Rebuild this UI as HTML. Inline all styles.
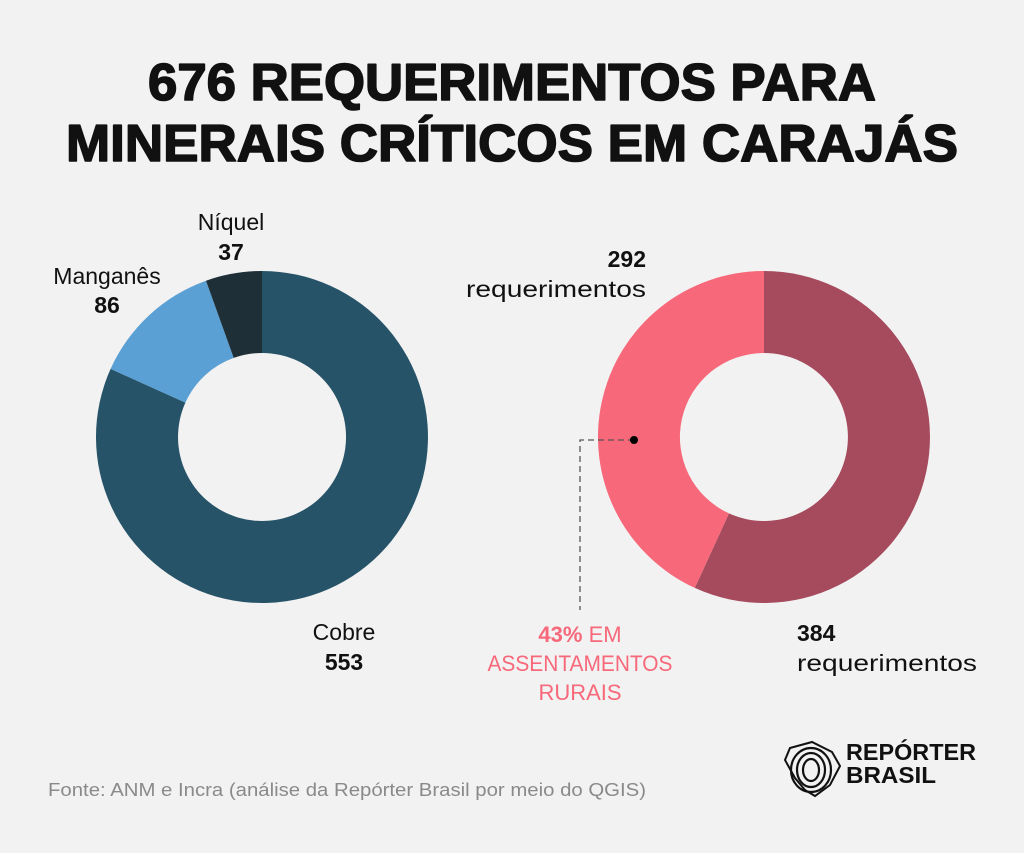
<!DOCTYPE html>
<html><head><meta charset="utf-8"><style>html,body{margin:0;padding:0;background:#f2f2f2}svg{display:block}</style></head>
<body>
<svg width="1024" height="853" viewBox="0 0 1024 853" xmlns="http://www.w3.org/2000/svg" font-family="Liberation Sans, sans-serif">
<rect width="1024" height="853" fill="#f2f2f2"/>
<g stroke="#111" stroke-width="1.6" stroke-linejoin="round">
<text x="512" y="100" text-anchor="middle" font-size="52" font-weight="bold" fill="#111" textLength="728" lengthAdjust="spacingAndGlyphs">676 REQUERIMENTOS PARA</text>
<text x="512" y="161" text-anchor="middle" font-size="52" font-weight="bold" fill="#111" textLength="892" lengthAdjust="spacingAndGlyphs">MINERAIS CRÍTICOS EM CARAJÁS</text>
</g>
<g transform="translate(262,437)">
<path d="M0,-166 A166,166 0 1 1 -151.4,-68.1 L-76.6,-34.4 A84,84 0 1 0 0,-84 Z" fill="#275368"/>
<path d="M-151.4,-68.1 A166,166 0 0 1 -56.0,-156.3 L-28.3,-79.1 A84,84 0 0 0 -76.6,-34.4 Z" fill="#5aa0d4"/>
<path d="M-56.0,-156.3 A166,166 0 0 1 0,-166 L0,-84 A84,84 0 0 0 -28.3,-79.1 Z" fill="#1f2f38"/>
</g>
<g transform="translate(764,437)">
<path d="M0,-166 A166,166 0 1 1 -69.2,150.9 L-35.0,76.4 A84,84 0 1 0 0,-84 Z" fill="#a64b5e"/>
<path d="M-69.2,150.9 A166,166 0 0 1 0,-166 L0,-84 A84,84 0 0 0 -35.0,76.4 Z" fill="#f7697a"/>
</g>
<path d="M634,440 H580 V610" fill="none" stroke="#555" stroke-width="1.3" stroke-dasharray="6,4"/>
<circle cx="634" cy="440" r="4" fill="#000"/>
<g font-size="23" fill="#111">
<text x="231" y="230" text-anchor="middle">Níquel</text>
<text x="231" y="260" text-anchor="middle" font-weight="bold">37</text>
<text x="107" y="284" text-anchor="middle">Manganês</text>
<text x="107" y="313" text-anchor="middle" font-weight="bold">86</text>
<text x="344" y="640" text-anchor="middle">Cobre</text>
<text x="344" y="670" text-anchor="middle" font-weight="bold">553</text>
<text x="646" y="267" text-anchor="end" font-weight="bold">292</text>
<text x="646" y="297" text-anchor="end" textLength="180" lengthAdjust="spacingAndGlyphs">requerimentos</text>
<text x="797" y="641" font-weight="bold">384</text>
<text x="797" y="671" textLength="180" lengthAdjust="spacingAndGlyphs">requerimentos</text>
</g>
<g font-size="22" fill="#f7697a" text-anchor="middle">
<text x="580" y="642"><tspan font-weight="bold">43%</tspan> EM</text>
<text x="580" y="671" textLength="185" lengthAdjust="spacingAndGlyphs">ASSENTAMENTOS</text>
<text x="580" y="700">RURAIS</text>
</g>
<text x="48" y="796" font-size="18" fill="#8a8a8a" textLength="598" lengthAdjust="spacingAndGlyphs">Fonte: ANM e Incra (análise da Repórter Brasil por meio do QGIS)</text>
<g stroke="#111" stroke-width="2.2" fill="none">
<ellipse cx="811" cy="770" rx="8" ry="11"/>
<ellipse cx="811" cy="770" rx="14" ry="17"/>
<ellipse cx="811" cy="770" rx="20" ry="22"/>
<path d="M790,748 L812,742 L832,752 L840,766 L830,785 L815,796 L805,790 L795,778 L785,760 Z" stroke-width="2"/>
</g>
<text x="846" y="760" font-size="23" font-weight="bold" fill="#111" textLength="130" lengthAdjust="spacingAndGlyphs">REPÓRTER</text>
<text x="846" y="783" font-size="23" font-weight="bold" fill="#111" textLength="90" lengthAdjust="spacingAndGlyphs">BRASIL</text>
</svg>
</body></html>
